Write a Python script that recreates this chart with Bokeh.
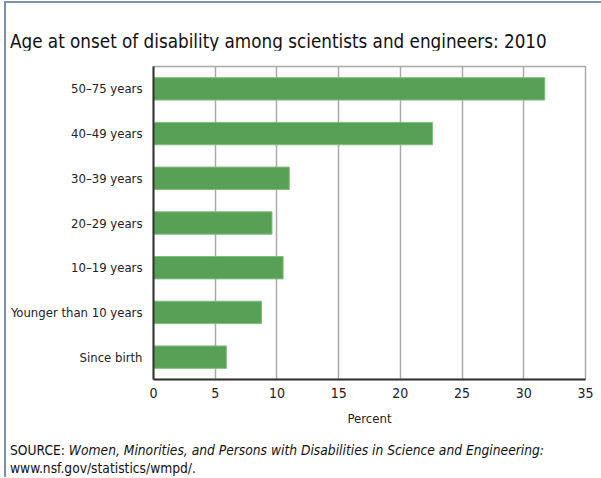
from bokeh.plotting import figure
from bokeh.models import Range1d, FactorRange, FixedTicker, Div
from bokeh.layouts import column
from bokeh.embed import file_html
from bokeh.resources import INLINE

categories = ["50–75 years", "40–49 years", "30–39 years", "20–29 years",
              "10–19 years", "Younger than 10 years", "Since birth"]
percent = [31.7, 22.6, 11.0, 9.6, 10.5, 8.75, 5.9]
x_ticks = [0, 5, 10, 15, 20, 25, 30, 35]

title_text = "Age at onset of disability among scientists and engineers: 2010"
source_label = "SOURCE:"
source_title = "Women, Minorities, and Persons with Disabilities in Science and Engineering:"
source_url = "www.nsf.gov/statistics/wmpd/."

FONT = "DejaVu Sans Condensed"

factors = list(reversed(categories))
p = figure(width=595, height=385, output_backend="svg", toolbar_location=None,
           x_range=Range1d(0, 35), y_range=FactorRange(*factors, range_padding=0),
           min_border_left=147, min_border_right=16, min_border_top=16,
           min_border_bottom=56, margin=0)
p.hbar(y=categories, right=percent, left=0, height=0.5,
       fill_color="#58a055", line_color="#7cbf78", line_width=1)

p.xaxis.ticker = FixedTicker(ticks=x_ticks)
p.xaxis.axis_label = "Percent"
p.xaxis.axis_label_text_font = FONT
p.xaxis.axis_label_text_font_style = "normal"
p.xaxis.axis_label_text_font_size = "13px"
p.xaxis.axis_label_text_color = "#222222"
p.xaxis.axis_label_standoff = 10
p.xaxis.major_label_text_font = FONT
p.xaxis.major_label_text_font_size = "14px"
p.xaxis.major_label_text_color = "#222222"
p.xaxis.major_label_standoff = 2
p.xaxis.major_tick_line_color = None
p.xaxis.minor_tick_line_color = None
p.xaxis.axis_line_color = "#333333"
p.xaxis.axis_line_width = 2

p.yaxis.major_label_text_font = FONT
p.yaxis.major_label_text_font_size = "13px"
p.yaxis.major_label_text_color = "#222222"
p.yaxis.major_label_standoff = 5
p.yaxis.major_tick_line_color = None
p.yaxis.minor_tick_line_color = None
p.yaxis.axis_line_color = "#333333"
p.yaxis.axis_line_width = 2

p.xgrid.grid_line_color = "#aaaaaa"
p.xgrid.grid_line_width = 1.5
p.ygrid.grid_line_color = None
p.outline_line_color = "#aaaaaa"
p.outline_line_width = 1.5
p.border_fill_color = "white"

font_css = "font-family:'DejaVu Sans Condensed';color:#111111;white-space:nowrap;"
title = Div(width=595, height=47, margin=0,
            text=(f'<div style="{font_css}font-size:18.7px;line-height:18px;'
                  f'margin:30px 0 0 4px;">{title_text}</div>'))
source = Div(width=595, height=42, margin=0,
             text=(f'<div style="{font_css}font-size:13.7px;line-height:18px;'
                   f'margin:6px 0 0 4px;">{source_label} <i>{source_title}</i><br>'
                   f'{source_url}</div>'))

layout = column(title, p, source, spacing=0,
                styles={"border-top": "2px solid #7d91aa",
                        "border-left": "2px solid #7d91aa",
                        "margin-left": "4px", "margin-top": "1px"})

open("out.html", "w").write(file_html(layout, INLINE))
